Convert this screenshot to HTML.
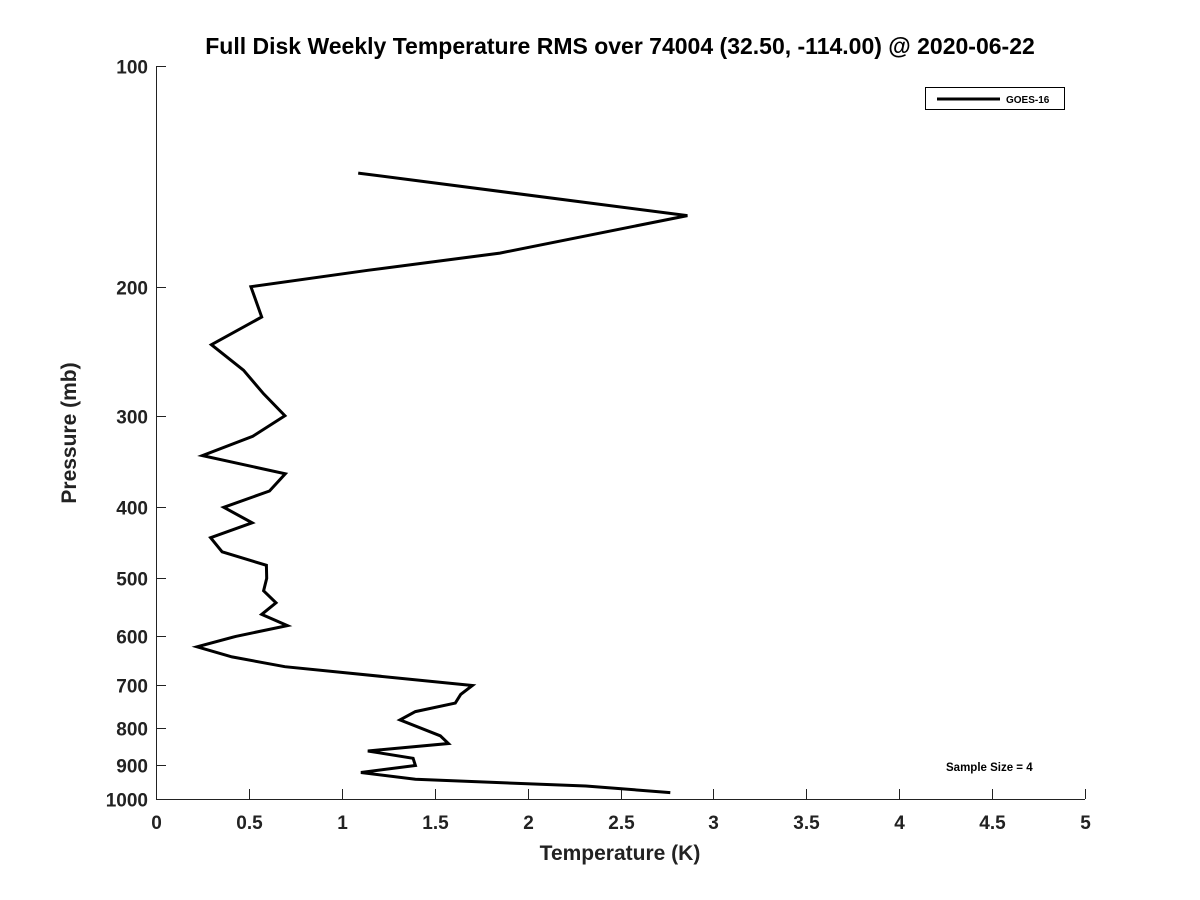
<!DOCTYPE html>
<html><head><meta charset="utf-8"><style>
html,body{margin:0;padding:0;background:#fff;}
svg{display:block;font-family:"Liberation Sans","DejaVu Sans",sans-serif;}
</style></head><body>
<svg id="chart" width="1200" height="900" viewBox="0 0 1200 900">
<text x="620" y="54" text-anchor="middle" font-size="23" font-weight="bold" fill="#000">Full Disk Weekly Temperature RMS over 74004 (32.50, -114.00) @ 2020-06-22</text>
<g id="axes"></g>
<path id="series" fill="none" stroke="#000" stroke-width="3" stroke-linejoin="miter"></path>
<g>
<rect x="925.5" y="87.5" width="139" height="22" fill="#fff" stroke="#000" stroke-width="1"></rect>
<line x1="937" y1="99" x2="1000" y2="99" stroke="#000" stroke-width="3"></line>
<text x="1006" y="103" font-size="10" font-weight="bold" fill="#000">GOES-16</text>
</g>
<text x="946" y="771" font-size="11.5" font-weight="bold" fill="#000">Sample Size = 4</text>
<text x="620" y="860" text-anchor="middle" font-size="21" font-weight="bold" fill="#222">Temperature (K)</text>
<text transform="translate(76,433) rotate(-90)" text-anchor="middle" font-size="21" font-weight="bold" fill="#222">Pressure (mb)</text>
</svg>
<script>
const xTicks = [0, 0.5, 1, 1.5, 2, 2.5, 3, 3.5, 4, 4.5, 5];
const xTickLabels = ["0","0.5","1","1.5","2","2.5","3","3.5","4","4.5","5"];
const yTicks = [100, 200, 300, 400, 500, 600, 700, 800, 900, 1000];
const yTickLabels = ["100","200","300","400","500","600","700","800","900","1000"];
const pressure = [140,160,180,190,200,220,240,260,280,300,320,340,360,380,400,420,440,460,480,500,520,540,560,580,600,620,640,660,700,720,740,760,780,820,840,860,880,900,920,940,960,980];
const rms = [1.088,2.860,1.851,1.140,0.511,0.569,0.298,0.471,0.579,0.694,0.521,0.250,0.696,0.611,0.365,0.517,0.294,0.356,0.594,0.596,0.579,0.646,0.569,0.707,0.429,0.221,0.409,0.694,1.703,1.640,1.611,1.396,1.313,1.530,1.574,1.140,1.384,1.396,1.103,1.396,2.313,2.768];

const X0=156, X1=1085, Y0=66, Y1=799;
const xS = v => X0 + (v-0)/(5-0)*(X1-X0);
const yS = p => Y0 + (Math.log10(p)-2)/(3-2)*(Y1-Y0);
const NS="http://www.w3.org/2000/svg";
const axes=document.getElementById('axes');
function mk(tag, attrs){const e=document.createElementNS(NS,tag);for(const k in attrs)e.setAttribute(k,attrs[k]);return e;}

const xl=mk('line',{x1:X0,y1:Y1+0.5,x2:X1,y2:Y1+0.5,stroke:'#222','stroke-width':1});


axes.appendChild(xl);
const yl=mk('line',{x1:X0+0.5,y1:Y0,x2:X0+0.5,y2:Y1,stroke:'#222','stroke-width':1});


axes.appendChild(yl);

xTicks.forEach((v,i)=>{
  const x=Math.round(xS(v))+0.5;
  const t=mk('line',{x1:x,y1:Y1,x2:x,y2:Y1-10,stroke:'#222','stroke-width':1});
  
  
  axes.appendChild(t);
  const l=mk('text',{x:x,y:Y1+30,'text-anchor':'middle','font-size':19,'font-weight':'bold',fill:'#222'});
  l.textContent=xTickLabels[i];
  
  
  axes.appendChild(l);
});
yTicks.forEach((p,i)=>{
  const y=Math.round(yS(p))+0.5;
  const t=mk('line',{x1:X0,y1:y,x2:X0+10,y2:y,stroke:'#222','stroke-width':1});
  
  
  axes.appendChild(t);
  const l=mk('text',{x:X0-8,y:y+7,'text-anchor':'end','font-size':19,'font-weight':'bold',fill:'#222'});
  l.textContent=yTickLabels[i];
  
  
  axes.appendChild(l);
});

document.getElementById('series').setAttribute('d',
  rms.map((v,i)=>(i?'L':'M')+xS(v).toFixed(1)+','+yS(pressure[i]).toFixed(1)).join(' '));
</script>
</body></html>
